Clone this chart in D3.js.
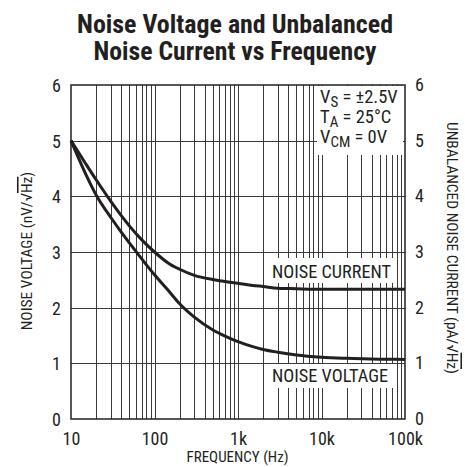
<!DOCTYPE html>
<html><head><meta charset="utf-8">
<script src="https://cdn.jsdelivr.net/npm/d3@7"></script>
<style>
body{margin:0;background:#fff}
text{font-family:"Liberation Sans Narrow","Arial Narrow","Roboto Condensed",Roboto,sans-serif;fill:#231f20}
</style>
</head><body><svg id="c" width="465" height="467"></svg>
<script>
// ---- data ----
const freq = [10, 15, 20, 30, 40, 50, 70, 100, 150, 200, 300, 500, 700, 1000, 1500, 2000, 3000, 5000, 10000, 20000, 50000, 100000];
const noiseVoltage = [5.0, 4.40, 4.025, 3.62, 3.357, 3.163, 2.88, 2.59, 2.29, 2.07, 1.83, 1.6, 1.49, 1.39, 1.30, 1.25, 1.20, 1.15, 1.11, 1.09, 1.075, 1.07];
const noiseCurrent = [5.0, 4.586, 4.298, 3.91, 3.654, 3.47, 3.222, 3.0, 2.79, 2.69, 2.58, 2.505, 2.47, 2.44, 2.40, 2.38, 2.35, 2.34, 2.33, 2.33, 2.33, 2.33];
const yTicks = [0, 1, 2, 3, 4, 5, 6];
const xTicks = [10, 100, 1000, 10000, 100000];
const xTickLabels = ["10", "100", "1k", "10k", "100k"];
const titleLines = ["Noise Voltage and Unbalanced", "Noise Current vs Frequency"];

const svg = d3.select("#c");
const x = d3.scaleLog().domain([10, 100000]).range([71, 405]);
const y = d3.scaleLinear().domain([0, 6]).range([419, 85]);

// minor grid values
const minor = [];
for (let d = 10; d < 100000; d *= 10) for (let k = 2; k <= 9; k++) minor.push(d * k);

const g = svg.append("g");
g.selectAll(".vg").data(minor.concat([100, 1000, 10000])).enter().append("line")
  .attr("x1", d => Math.round(x(d)) + 0.5).attr("x2", d => Math.round(x(d)) + 0.5)
  .attr("y1", y(6)).attr("y2", y(0))
  .attr("stroke", "#3a3a3a").attr("stroke-width", 1);
g.selectAll(".hg").data(yTicks.slice(1, -1)).enter().append("line")
  .attr("x1", x(10)).attr("x2", x(100000))
  .attr("y1", d => Math.round(y(d)) + 0.5).attr("y2", d => Math.round(y(d)) + 0.5)
  .attr("stroke", "#3a3a3a").attr("stroke-width", 1);

// white label boxes
svg.append("rect").attr("x", 317).attr("y", 86).attr("width", 86).attr("height", 69).attr("fill", "#fff");
svg.append("rect").attr("x", 265).attr("y", 258).attr("width", 128).attr("height", 25).attr("fill", "#fff");
svg.append("rect").attr("x", 265).attr("y", 364).attr("width", 128).attr("height", 24).attr("fill", "#fff");

// frame
svg.append("rect").attr("x", x(10)).attr("y", y(6)).attr("width", x(100000) - x(10)).attr("height", y(0) - y(6))
  .attr("fill", "none").attr("stroke", "#231f20").attr("stroke-width", 1.5);

// curves
const line = d3.line().x(d => x(d[0])).y(d => y(d[1])).curve(d3.curveMonotoneX);
[noiseCurrent, noiseVoltage].forEach(s => {
  svg.append("path").datum(freq.map((f, i) => [f, s[i]])).attr("d", line)
    .attr("fill", "none").attr("stroke", "#231f20").attr("stroke-width", 3);
});

// tick labels via d3 axes
const fmt = d3.format("d");
const axL = d3.axisLeft(y).tickValues(yTicks).tickFormat(fmt).tickSize(0).tickPadding(0);
const gl = svg.append("g").attr("transform", "translate(61,0)").call(axL);
const axR = d3.axisRight(y).tickValues(yTicks).tickFormat(fmt).tickSize(0).tickPadding(0);
const gr = svg.append("g").attr("transform", "translate(415,0)").call(axR);
const axB = d3.axisBottom(x).tickValues(xTicks).tickFormat((d, i) => xTickLabels[i]).tickSize(0).tickPadding(0);
const gb = svg.append("g").attr("transform", "translate(0,431)").call(axB);
[gl, gr, gb].forEach(a => {
  a.select(".domain").remove();
  a.selectAll("text").attr("font-family", null).style("font-size", "18px").attr("fill", "#231f20");
});
gl.selectAll("text").attr("dy", "0.36em");
gr.selectAll("text").attr("dy", "0.3em");
gb.selectAll("text").attr("dy", "0.78em");

// title
svg.selectAll(".title").data(titleLines).enter().append("text")
  .attr("x", 235).attr("y", (d, i) => 33 + i * 27)
  .attr("text-anchor", "middle").style("font-size", "25px").style("font-weight", "bold")
  .attr("textLength", (d, i) => i === 0 ? 316 : 283).attr("lengthAdjust", "spacingAndGlyphs")
  .text(d => d);

// axis titles
svg.append("text").attr("x", 237.5).attr("y", 462).attr("text-anchor", "middle")
  .style("font-size", "15px").text("FREQUENCY (Hz)");

const lt = svg.append("text").attr("transform", "translate(32,251) rotate(-90)")
  .attr("text-anchor", "middle").style("font-size", "15.5px");
lt.append("tspan").text("NOISE VOLTAGE (nV/√");
lt.append("tspan").style("text-decoration", "overline").text("Hz");
lt.append("tspan").text(")");

const rt = svg.append("text").attr("transform", "translate(447,248) rotate(90)")
  .attr("text-anchor", "middle").style("font-size", "15.5px");
rt.append("tspan").text("UNBALANCED NOISE CURRENT (pA/√");
rt.append("tspan").style("text-decoration", "overline").text("Hz");
rt.append("tspan").text(")");

// in-plot labels
svg.append("text").attr("x", 272).attr("y", 278).style("font-size", "18px")
  .attr("textLength", 119).attr("lengthAdjust", "spacingAndGlyphs").text("NOISE CURRENT");
svg.append("text").attr("x", 272).attr("y", 382).style("font-size", "18px")
  .attr("textLength", 116).attr("lengthAdjust", "spacingAndGlyphs").text("NOISE VOLTAGE");

// conditions
const cond = [["V", "S", " = ±2.5V"], ["T", "A", " = 25°C"], ["V", "CM", " = 0V"]];
cond.forEach((c, i) => {
  const t = svg.append("text").attr("x", 320).attr("y", 103 + i * 20).style("font-size", "18.5px");
  t.append("tspan").text(c[0]);
  t.append("tspan").attr("dy", 4).style("font-size", "15px").text(c[1]);
  t.append("tspan").attr("dy", -4).text(c[2]);
});
</script>
</body></html>
